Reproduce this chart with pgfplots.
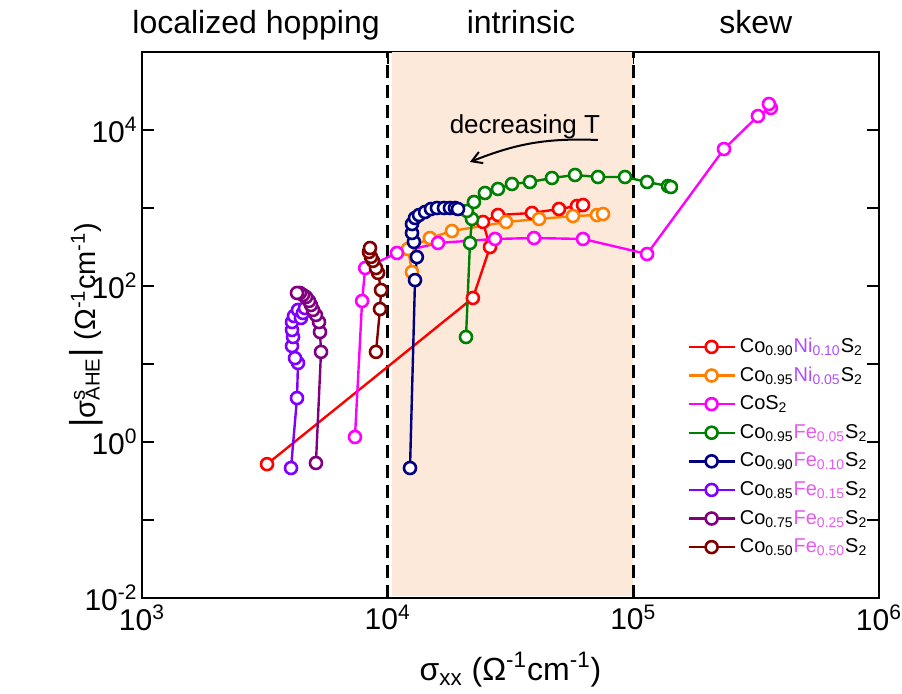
\documentclass[border=0pt]{standalone}
\usepackage{pgfplots}
\pgfplotsset{compat=1.18}
\usepackage{fontspec}
\setmainfont{Liberation Sans}
\usetikzlibrary{arrows.meta}
\definecolor{peach}{RGB}{252,233,218}
\definecolor{cred}{RGB}{255,0,0}
\definecolor{corange}{RGB}{255,128,0}
\definecolor{cmag}{RGB}{255,0,255}
\definecolor{cgreen}{RGB}{0,128,0}
\definecolor{cnavy}{RGB}{0,0,128}
\definecolor{cviolet}{RGB}{128,0,255}
\definecolor{cpurple}{RGB}{128,0,128}
\definecolor{cbrown}{RGB}{128,0,0}
\definecolor{nicol}{RGB}{176,76,255}
\definecolor{fecol}{RGB}{230,90,240}
\pgfplotsset{ser/.style={color=#1, line width=1.2pt, mark=*, mark size=3pt, mark options={fill=white, line width=1.3pt, solid}}}
\begin{document}
\begin{tikzpicture}
\useasboundingbox (-71pt,-47.5pt) rectangle (380pt,299pt);
\begin{axis}[
 at={(0,0)}, anchor=south west,
 scale only axis, width=368.5pt, height=273pt,
 xmode=log, ymode=log,
 xmin=1e3, xmax=1e6, ymin=1e-2, ymax=1e5,
 xtick={1e3,1e4,1e5,1e6},
 xticklabels={10\textsuperscript{3},10\textsuperscript{4},10\textsuperscript{5},10\textsuperscript{6}},
 ytick={1e-2,1e-1,1,10,100,1000,1e4,1e5},
 yticklabels={10\textsuperscript{-2},,10\textsuperscript{0},,10\textsuperscript{2},,10\textsuperscript{4},},
 xminorticks=false, yminorticks=false,
 tick align=inside, major tick length=6pt,
 axis line style={line width=1pt}, tick style={line width=1pt, black},
 ticklabel style={font=\fontsize{15}{15}\selectfont},
 yticklabel style={inner xsep=2pt},
 clip=false,
 legend style={at={(0.7395,0.4835)}, anchor=north west, draw=none, fill=none,
   font=\fontsize{10}{12}\selectfont, inner sep=0pt, row sep=1.8pt,
   nodes={inner ysep=0pt, text height=9pt, text depth=3.5pt}},
 legend cell align=left,
 legend image code/.code={\draw[mark repeat=2,mark phase=2] plot coordinates {(0pt,0pt) (11.5pt,0pt) (23pt,0pt)};},
]
\fill[peach] (axis cs:10400,1.05e-2) rectangle (axis cs:1e5,1e5);
\draw[black, line width=1.4pt, dash pattern=on 6.5pt off 3.5pt] (axis cs:1e4,1e-2) -- (axis cs:1e4,1e5);
\draw[black, line width=1.4pt, dash pattern=on 6.5pt off 3.5pt] (axis cs:1e5,1e-2) -- (axis cs:1e5,1e5);

\addplot[ser=cred] coordinates {(3228,0.52) (22230,70.2) (26100,316) (24430,662) (28130,813) (38680,863) (49800,971) (58980,1061) (62400,1092)};
\addlegendentry{Co\textsubscript{0.90}{\color{nicol}Ni\textsubscript{0.10}}S\textsubscript{2}}
\addplot[ser=corange] coordinates {(12560,151) (12100,298) (14860,412) (18270,507) (30330,662) (41320,723) (56800,789) (71100,813) (75300,837)};
\addlegendentry{Co\textsubscript{0.95}{\color{nicol}Ni\textsubscript{0.05}}S\textsubscript{2}}
\addplot[ser=cmag] coordinates {(7360,1.16) (7870,64.3) (8100,170) (10910,265) (16030,356) (27350,401) (39430,412) (62400,401) (113700,257) (233900,5700) (321500,15100) (363000,19140) (356400,21530)};
\addlegendentry{CoS\textsubscript{2}}
\addplot[ser=cgreen] coordinates {(20840,22.2) (21630,356) (22040,723) (21020,916) (22450,1194) (24890,1557) (28120,1754) (32060,2032) (37950,2154) (46650,2426) (57900,2650) (71800,2497) (92500,2497) (113700,2154) (138400,1914) (142300,1858)};
\addlegendentry{Co\textsubscript{0.95}{\color{fecol}Fe\textsubscript{0.05}}S\textsubscript{2}}
\addplot[ser=cnavy] coordinates {(12330,0.464) (12920,119) (13150,235) (12790,367) (12560,478) (12560,623) (12920,745) (13420,813) (14200,889) (15010,971) (15870,1000) (16950,1000) (17930,1000) (18790,1000) (19330,971)};
\addlegendentry{Co\textsubscript{0.90}{\color{fecol}Fe\textsubscript{0.10}}S\textsubscript{2}}
\addplot[ser=cviolet] coordinates {(4042,0.464) (4275,3.66) (4315,10.3) (4196,11.9) (4080,17.0) (4119,22.2) (4080,27.3) (4080,34.5) (4157,41.2) (4315,49.3) (4437,38.9) (4520,45.1) (4607,52.2)};
\addlegendentry{Co\textsubscript{0.85}{\color{fecol}Fe\textsubscript{0.15}}S\textsubscript{2}}
\addplot[ser=cpurple] coordinates {(5105,0.538) (5354,14.3) (5304,25.7) (5255,34.5) (5105,42.5) (4966,49.3) (4874,57.1) (4784,64.3) (4652,72.3) (4520,76.7) (4394,81.4) (4275,81.4)};
\addlegendentry{Co\textsubscript{0.75}{\color{fecol}Fe\textsubscript{0.25}}S\textsubscript{2}}
\addplot[ser=cbrown] coordinates {(8963,14.3) (9308,50.7) (9398,88.9) (9140,147) (8963,170) (8712,210) (8551,236) (8393,273) (8472,307)};
\addlegendentry{Co\textsubscript{0.50}{\color{fecol}Fe\textsubscript{0.50}}S\textsubscript{2}}

\node[anchor=base, font=\fontsize{16}{16}\selectfont] at ([yshift=9.5pt]axis cs:2913,1e5) {localized hopping};
\node[anchor=base, font=\fontsize{16}{16}\selectfont] at ([yshift=9.5pt]axis cs:34900,1e5) {intrinsic};
\node[anchor=base, font=\fontsize{16}{16}\selectfont] at ([yshift=9.5pt]axis cs:315000,1e5) {skew};
\node[font=\fontsize{13}{13}\selectfont] at (axis cs:36200,10900) {decreasing T};
\draw[line width=1pt, -{Straight Barb[length=5pt,width=6pt]}] (axis cs:71800,7450) to[bend right=12] (axis cs:21630,3890);
\node[anchor=base, font=\fontsize{16}{16}\selectfont] at ([yshift=-41pt]rel axis cs:0.5,0) {σ\textsubscript{xx} (Ω\textsuperscript{-1}cm\textsuperscript{-1})};
\node[rotate=90, anchor=center, font=\fontsize{14.5}{14.5}\selectfont] at ([xshift=-28pt]rel axis cs:0,0.5) {{\fontsize{18}{18}\selectfont|}σ\makebox[0pt][l]{\textsuperscript{s}}\textsubscript{AHE}{\fontsize{18}{18}\selectfont|} (Ω\textsuperscript{-1}cm\textsuperscript{-1})};
\end{axis}
\end{tikzpicture}
\end{document}
